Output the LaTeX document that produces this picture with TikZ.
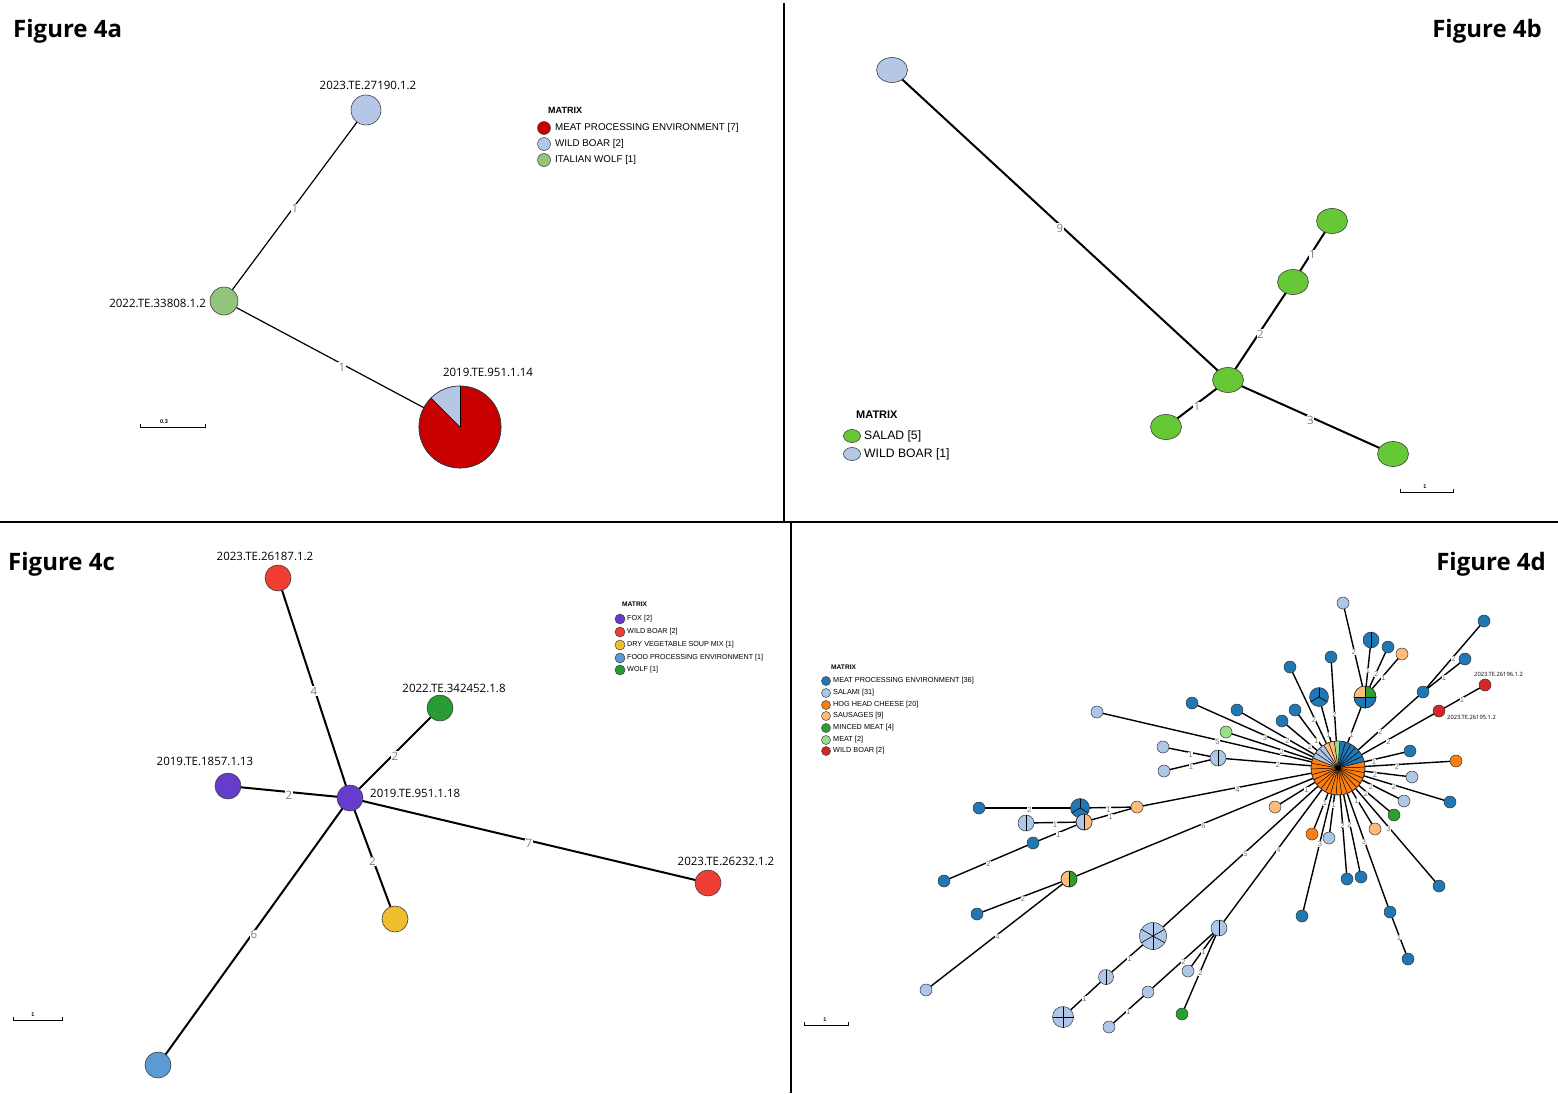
\documentclass[tikz,border=0pt]{standalone}
\usepackage{fontspec}
\setmainfont{Open Sans}
\newfontfamily\lgf{Liberation Sans}
\usetikzlibrary{shapes.geometric}
\pgfdeclarelayer{background}
\pgfsetlayers{background,main}
\definecolor{alb}{RGB}{180,199,231}
\definecolor{ared}{RGB}{200,0,0}
\definecolor{agr}{RGB}{147,196,125}
\definecolor{bgr}{RGB}{102,200,52}
\definecolor{cpu}{RGB}{102,60,204}
\definecolor{cre}{RGB}{240,62,52}
\definecolor{cye}{RGB}{240,190,45}
\definecolor{cbl}{RGB}{90,155,213}
\definecolor{cgr}{RGB}{40,155,50}
\definecolor{dbl}{RGB}{31,119,180}
\definecolor{dlb}{RGB}{174,199,232}
\definecolor{dor}{RGB}{255,127,14}
\definecolor{dsa}{RGB}{255,187,120}
\definecolor{dmi}{RGB}{44,160,44}
\definecolor{dme}{RGB}{152,223,138}
\definecolor{dre}{RGB}{214,39,40}
\newcommand\pwedge[5]{\fill[#5] (#1.center) -- ++(#3:#2pt) arc[start angle=#3, end angle=#4, radius=#2pt] -- cycle;}
\newcommand\pspokes[3]{\foreach \ang in {#3} {\draw[spk] (#1.center) -- ++(\ang:#2pt);}}
\newcommand\pring[2]{\draw[ring] (#1.center) circle[radius=#2pt];}
\begin{document}
\begin{tikzpicture}[x=1pt,y=-1pt,
  nd/.style={circle, draw=black!75, line width=0.6pt, inner sep=0, outer sep=0},
  dn/.style={circle, draw=black!80, line width=0.5pt, inner sep=0, outer sep=0, minimum size=12},
  ell/.style={ellipse, draw=black!75, line width=0.6pt, inner sep=0, outer sep=0, minimum width=31, minimum height=25},
  spk/.style={black, line width=0.6pt},
  ring/.style={draw=black!80, line width=0.6pt},
  title/.style={font=\bfseries\fontsize{24}{28}\selectfont, inner sep=0},
  lab/.style={font=\fontsize{11.5}{13}\selectfont, inner sep=0},
  dnl/.style={font=\fontsize{5.8}{7}\selectfont, inner sep=0, anchor=west},
  elab/.style={font=\fontsize{11.5}{12}\selectfont, text=black!50, fill=white, inner sep=0.6pt, yshift=-3pt},
  dlab/.style={font=\lgf\fontsize{7.5}{7.5}\selectfont, text=black!55, fill=white, inner sep=0.2pt, yshift=-2pt},
  ea/.style={line width=1.2pt},
  eb/.style={line width=2pt},
  ec/.style={line width=2pt},
  ed/.style={line width=1.4pt},
  sbar/.style={line width=0.9pt},
  sbl/.style={font=\lgf\bfseries\fontsize{5.5}{6}\selectfont, inner sep=0},
  lgh/.style={font=\lgf\bfseries\fontsize{#1}{#1}\selectfont, anchor=west, inner sep=0},
  lgt/.style={font=\lgf\fontsize{#1}{#1}\selectfont, anchor=west, inner sep=0},
  lgc/.style={circle, draw=black!75, line width=0.5pt, inner sep=0, minimum size=#1},
]
\useasboundingbox (0,0) rectangle (1558,1093);
\begin{pgfonlayer}{background}
\fill[white] (0,0) rectangle (1558,1093);
\end{pgfonlayer}
% dividers
\draw[line width=1.4pt] (0,522) -- (1558,522);
\draw[line width=1.4pt] (784,3) -- (784,522);
\draw[line width=1.4pt] (791,522) -- (791,1093);
% titles
\node[title, anchor=west] (t4a) at (13,31) {Figure 4a};
\node[title, anchor=east] (t4b) at (1542,31) {Figure 4b};
\node[title, anchor=west] (t4c) at (8,564) {Figure 4c};
\node[title, anchor=east] (t4d) at (1546,564) {Figure 4d};

%%%%%%%%%%%% Figure 4a
\node[nd, fill=alb, minimum size=30] (a1) at (366,110) {};
\node[nd, fill=agr, minimum size=28] (a2) at (224,301) {};
\node[nd, fill=ared, minimum size=82] (a3) at (460,427) {};
\pwedge{a3}{41}{90}{135}{alb}
\pspokes{a3}{41}{90,135}
\pring{a3}{41}
\node[lab] (a1l) at (368,85) {2023.TE.27190.1.2};
\node[lab, anchor=east] (a2l) at (206,303) {2022.TE.33808.1.2};
\node[lab] (a3l) at (488,372) {2019.TE.951.1.14};
\begin{pgfonlayer}{background}
\draw[ea] (a1.center) -- node[elab]{1} (a2.center);
\draw[ea] (a2.center) -- node[elab]{1} (a3.center);
\end{pgfonlayer}
\draw[sbar] (140,424) -- (140,427) -- (205,427) -- (205,424);
\node[sbl] (asb) at (164,422) {0.3};
\node[lgh=9] (am) at (548,110) {MATRIX};
\node[lgc=13, fill=ared] (ac1) at (544,128) {};
\node[lgc=13, fill=alb] (ac2) at (544,144) {};
\node[lgc=13, fill=agr] (ac3) at (544,160) {};
\node[lgt=9.8] (at1) at (555,128) {MEAT PROCESSING ENVIRONMENT [7]};
\node[lgt=9.8] (at2) at (555,144) {WILD BOAR [2]};
\node[lgt=9.8] (at3) at (555,160) {ITALIAN WOLF [1]};

%%%%%%%%%%%% Figure 4b
\node[ell, fill=alb] (b1) at (892,70) {};
\node[ell, fill=bgr] (b2) at (1332,221) {};
\node[ell, fill=bgr] (b3) at (1293,282) {};
\node[ell, fill=bgr] (b4) at (1228,380) {};
\node[ell, fill=bgr] (b5) at (1166,427) {};
\node[ell, fill=bgr] (b6) at (1393,454) {};
\begin{pgfonlayer}{background}
\draw[eb] (b1.center) -- node[elab]{9} (b4.center);
\draw[eb] (b2.center) -- node[elab]{1} (b3.center);
\draw[eb] (b3.center) -- node[elab]{2} (b4.center);
\draw[eb] (b4.center) -- node[elab]{1} (b5.center);
\draw[eb] (b4.center) -- node[elab]{3} (b6.center);
\end{pgfonlayer}
\node[lgh=11] (bm) at (856,415) {MATRIX};
\node[ell, fill=bgr, minimum width=17, minimum height=13] (bc1) at (852,436) {};
\node[ell, fill=alb, minimum width=17, minimum height=13] (bc2) at (852,454) {};
\node[lgt=12.2] (bt1) at (864,436) {SALAD [5]};
\node[lgt=12.2] (bt2) at (864,454) {WILD BOAR [1]};
\draw[sbar] (1400,489) -- (1400,492) -- (1453,492) -- (1453,489);
\node[sbl] (bsb) at (1425,487) {1};

%%%%%%%%%%%% Figure 4c
\node[nd, fill=cre, minimum size=26] (c1) at (278,578) {};
\node[nd, fill=cgr, minimum size=26] (c2) at (440,708) {};
\node[nd, fill=cpu, minimum size=26] (c3) at (228,786) {};
\node[nd, fill=cpu, minimum size=26] (c4) at (350,798) {};
\node[nd, fill=cye, minimum size=26] (c5) at (395,919) {};
\node[nd, fill=cre, minimum size=26] (c6) at (708,883) {};
\node[nd, fill=cbl, minimum size=26] (c7) at (158,1065) {};
\begin{pgfonlayer}{background}
\draw[ec] (c4.center) -- node[elab]{4} (c1.center);
\draw[ec] (c4.center) -- node[elab]{2} (c2.center);
\draw[ec] (c4.center) -- node[elab]{2} (c3.center);
\draw[ec] (c4.center) -- node[elab]{2} (c5.center);
\draw[ec] (c4.center) -- node[elab]{7} (c6.center);
\draw[ec] (c4.center) -- node[elab]{6} (c7.center);
\end{pgfonlayer}
\node[lab] (c1l) at (265,556) {2023.TE.26187.1.2};
\node[lab] (c2l) at (454,688) {2022.TE.342452.1.8};
\node[lab] (c3l) at (205,761) {2019.TE.1857.1.13};
\node[lab, anchor=west] (c4l) at (370,793) {2019.TE.951.1.18};
\node[lab] (c6l) at (726,861) {2023.TE.26232.1.2};
\node[lgh=6.6] (cm) at (622,604) {MATRIX};
\foreach \i/\yy/\cc/\tt in {1/619/cpu/{FOX [2]}, 2/632/cre/{WILD BOAR [2]}, 3/645/cye/{DRY VEGETABLE SOUP MIX [1]}, 4/658/cbl/{FOOD PROCESSING ENVIRONMENT [1]}, 5/670/cgr/{WOLF [1]}}{
  \node[lgc=10, fill=\cc] (cc\i) at (620,\yy) {};
  \node[lgt=7.2] (ct\i) at (627,\yy) {\tt};
}
\draw[sbar] (13,1017) -- (13,1020) -- (62,1020) -- (62,1017);
\node[sbl] (csb) at (33,1015) {1};

%%%%%%%%%%%% Figure 4d
\node[dn, fill=dor, minimum size=54] (h) at (1338,768) {};
\foreach \n/\x/\y/\c in {
 t1/1343/603/dlb, t3/1388/647/dbl, t4/1402/654/dsa, t5/1331/657/dbl, t6/1290/667/dbl,
 t8/1295/710/dbl, t9/1282/721/dbl,
 r1/1423/692/dbl, r2/1484/621/dbl, r3/1465/659/dbl, r4/1439/711/dre, r5/1485/685/dre,
 l1/1097/712/dlb, l2/1192/703/dbl, l3/1237/710/dbl, l4/1226/732/dme, l6/1163/747/dlb, l7/1164/771/dlb,
 m1/979/808/dbl, m3/1137/807/dsa, m6/1033/843/dbl, m7/944/881/dbl,
 s2/977/914/dbl, s3/926/990/dlb,
 k2/1188/971/dlb, k3/1148/992/dlb, k4/1109/1027/dlb, k5/1182/1014/dmi,
 u1/1275/807/dsa, u2/1312/834/dor, u3/1329/838/dlb, u4/1347/879/dbl, u5/1361/877/dbl,
 u6/1302/916/dbl, u7/1390/912/dbl, u8/1408/959/dbl, u9/1375/829/dsa, u10/1394/815/dmi,
 u11/1404/801/dlb, u12/1439/886/dbl, u13/1450/802/dbl, u14/1412/777/dlb, u15/1456/761/dor,
 u16/1410/751/dbl}{
  \node[dn, fill=\c] (\n) at (\x,\y) {};
}
% multi-slice nodes
\node[dn, fill=dbl, minimum size=22] (p1) at (1365,697) {};
\node[dn, fill=dbl, minimum size=16] (t2) at (1371,640) {};
\node[dn, fill=dbl, minimum size=19] (t7) at (1319,697) {};
\node[dn, fill=dlb, minimum size=16] (l5) at (1218,758) {};
\node[dn, fill=dbl, minimum size=19] (m2) at (1080,808) {};
\node[dn, fill=dlb, minimum size=16] (m4) at (1026,823) {};
\node[dn, fill=dlb, minimum size=16] (m5) at (1084,822) {};
\node[dn, fill=dsa, minimum size=16] (s1) at (1069,879) {};
\node[dn, fill=dlb, minimum size=27] (g1) at (1153,936) {};
\node[dn, fill=dlb, minimum size=15] (g2) at (1106,977) {};
\node[dn, fill=dlb, minimum size=21] (g3) at (1063,1017) {};
\node[dn, fill=dlb, minimum size=16] (k1) at (1219,928) {};
% hub pie
\pwedge{h}{27}{14}{86}{dbl}
\pwedge{h}{27}{86}{98}{dme}
\pwedge{h}{27}{98}{122}{dsa}
\pwedge{h}{27}{122}{158}{dlb}
\foreach \k in {0,...,29}{\draw[spk, line width=0.5pt] (h.center) -- ++({14+12*\k}:27pt);}
\pring{h}{27}
\fill (h.center) circle[radius=2.2pt];
% p1
\pwedge{p1}{11}{90}{180}{dsa}
\pwedge{p1}{11}{0}{90}{dmi}
\pspokes{p1}{11}{0,90,180,270}
\pring{p1}{11}
\pspokes{t2}{8}{90,270}
\pspokes{t7}{9.5}{90,210,330}
\pspokes{l5}{8}{90,270}
\pspokes{m2}{9.5}{90,210,330}
\pspokes{m4}{8}{90,270}
\pwedge{m5}{8}{-90}{90}{dsa}
\pspokes{m5}{8}{90,270}
\pring{m5}{8}
\pwedge{s1}{8}{-90}{90}{dmi}
\pspokes{s1}{8}{90,270}
\pring{s1}{8}
\pspokes{g1}{13.5}{90,150,210,270,330,30}
\pspokes{g2}{7.5}{90,270}
\pspokes{g3}{10.5}{0,90,180,270}
\pspokes{k1}{8}{90,270}
\begin{pgfonlayer}{background}
\foreach \a/\b/\l in {
 h/p1/1, h/t5/2, h/t6/2, h/t7/1, h/t8/1, h/t9/2, h/l1/5, h/l2/3, h/l3/2, h/l4/2, h/l5/2,
 h/m3/4, h/s1/6, h/g1/5, h/k1/4, h/u1/1, h/u2/1, h/u3/1, h/u4/2, h/u5/2, h/u6/3, h/u7/3,
 h/u9/1, h/u10/2, h/u11/2, h/u12/3, h/u13/2, h/u14/2, h/u15/2, h/u16/1, h/r1/2, h/r4/2,
 p1/t1/2, p1/t2/1, p1/t3/2, p1/t4/1,
 r1/r2/2, r1/r3/1, r4/r5/1,
 l5/l6/1, l5/l7/1,
 m1/m2/2, m2/m3/1, m4/m5/1, m5/m3/1, m6/m5/1, m7/m6/2,
 s1/s2/2, s1/s3/4,
 g1/g2/1, g2/g3/1,
 k1/k2/1, k1/k3/2, k3/k4/1, k1/k5/2,
 u7/u8/1}{
  \draw[ed] (\a.center) -- node[dlab]{\l} (\b.center);
}
\end{pgfonlayer}
\node[dnl] (r4l) at (1447,717) {2023.TE.26195.1.2};
\node[dnl] (r5l) at (1474,674) {2023.TE.26196.1.2};
\node[lgh=6.6] (dm) at (831,667) {MATRIX};
\foreach \i/\yy/\cc/\tt in {1/681/dbl/{MEAT PROCESSING ENVIRONMENT [36]}, 2/693/dlb/{SALAMI [31]}, 3/705/dor/{HOG HEAD CHEESE [20]}, 4/716/dsa/{SAUSAGES [9]}, 5/728/dmi/{MINCED MEAT [4]}, 6/740/dme/{MEAT [2]}, 7/751/dre/{WILD BOAR [2]}}{
  \node[lgc=9, fill=\cc] (dc\i) at (826,\yy) {};
  \node[lgt=7.3] (dt\i) at (833,\yy) {\tt};
}
\draw[sbar] (804,1022) -- (804,1025) -- (848,1025) -- (848,1022);
\node[sbl] (dsb) at (825,1020) {1};
\end{tikzpicture}
\end{document}
